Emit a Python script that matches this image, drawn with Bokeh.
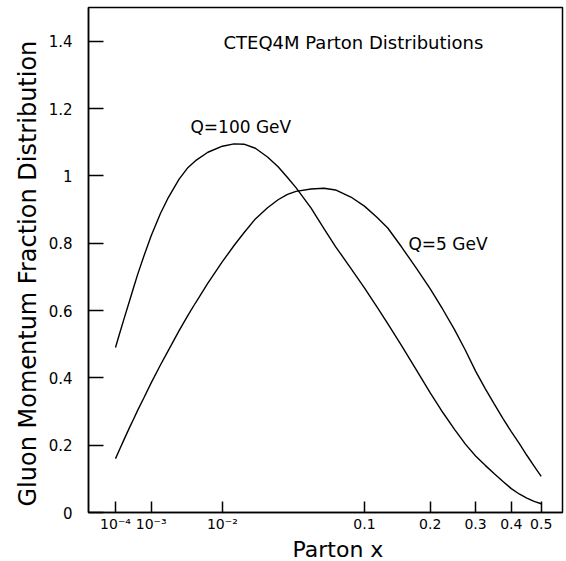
import numpy as np
from bokeh.plotting import figure
from bokeh.models import Range1d, FixedTicker, CustomJSTickFormatter, Label, Title
from bokeh.embed import file_html
from bokeh.resources import INLINE

# Parton momentum fraction x
x_vals = [1e-4, 1.5e-4, 2e-4, 3e-4, 4e-4, 5e-4, 7e-4, 1e-3, 1.5e-3, 2e-3, 3e-3, 4e-3,
          5e-3, 7e-3, 1e-2, 0.013, 0.016, 0.02, 0.025, 0.03, 0.035, 0.04, 0.05, 0.06,
          0.07, 0.085, 0.1, 0.115, 0.13, 0.15, 0.175, 0.2, 0.225, 0.25, 0.275, 0.3,
          0.325, 0.35, 0.375, 0.4, 0.425, 0.45, 0.475, 0.5]
# x*g(x) at Q = 100 GeV
q100 = [0.49, 0.537, 0.573, 0.628, 0.672, 0.708, 0.762, 0.822, 0.888, 0.932, 0.99, 1.025,
        1.045, 1.07, 1.088, 1.095, 1.094, 1.082, 1.056, 1.027, 0.995, 0.965, 0.905, 0.843,
        0.79, 0.725, 0.667, 0.612, 0.561, 0.497, 0.423, 0.355, 0.297, 0.247, 0.203, 0.168,
        0.14, 0.115, 0.092, 0.071, 0.055, 0.043, 0.033, 0.026]
# x*g(x) at Q = 5 GeV
q5 = [0.16, 0.191, 0.215, 0.252, 0.28, 0.304, 0.341, 0.385, 0.438, 0.478, 0.54, 0.586,
      0.623, 0.681, 0.745, 0.793, 0.831, 0.872, 0.905, 0.929, 0.945, 0.954, 0.961, 0.963,
      0.958, 0.937, 0.91, 0.878, 0.845, 0.79, 0.725, 0.664, 0.603, 0.543, 0.482, 0.42,
      0.368, 0.322, 0.279, 0.24, 0.205, 0.17, 0.138, 0.107]

x_tick_vals = [1e-4, 1e-3, 1e-2, 0.1, 0.2, 0.3, 0.4, 0.5]
x_tick_labels = ["10\u207b\u2074", "10\u207b\u00b3", "10\u207b\u00b2", "0.1", "0.2", "0.3", "0.4", "0.5"]
y_tick_vals = [0, 0.2, 0.4, 0.6, 0.8, 1.0, 1.2, 1.4]

POW = 0.3  # the x axis is drawn on an x^0.3 scale
tx = np.array(x_vals) ** POW
tticks = [v ** POW for v in x_tick_vals]

FONT = "DejaVu Sans"

p = figure(width=566, height=561, output_backend="svg", toolbar_location=None,
           x_range=Range1d(0.01558, 0.8498), y_range=Range1d(0, 1.5),
           min_border_left=88, min_border_right=4, min_border_top=7, min_border_bottom=49)
p.background_fill_color = "white"
p.border_fill_color = "white"
p.outline_line_color = "black"
p.outline_line_width = 1.5
p.grid.visible = False

p.line(tx, q100, line_color="black", line_width=1.4)
p.line(tx, q5, line_color="black", line_width=1.4)

xa = p.xaxis[0]
xa.ticker = FixedTicker(ticks=tticks, minor_ticks=[])
xa.formatter = CustomJSTickFormatter(args=dict(tvals=tticks, labs=x_tick_labels), code="""
let best = 0;
for (let i = 0; i < tvals.length; i++) {
  if (Math.abs(tvals[i] - tick) < Math.abs(tvals[best] - tick)) best = i;
}
return labs[best];
""")

ya = p.yaxis[0]
ya.ticker = FixedTicker(ticks=y_tick_vals, minor_ticks=[])
ya.formatter = CustomJSTickFormatter(code="return String(Math.round(tick*10)/10);")

for ax in (xa, ya):
    ax.axis_line_color = "black"
    ax.axis_line_width = 1.5
    ax.major_tick_line_color = "black"
    ax.major_tick_line_width = 1.5
    ax.major_tick_out = 0
    ax.minor_tick_out = 0
    ax.minor_tick_in = 0
    ax.major_label_text_font = FONT
    ax.major_label_text_color = "black"

xa.major_label_text_font_size = "14px"
ya.major_label_text_font_size = "15px"
xa.major_tick_in = 11
xa.major_label_standoff = 3
ya.major_tick_in = 15
ya.major_label_standoff = 16

# axis titles
p.add_layout(Title(text="Parton x", text_font=FONT, text_font_size="22px",
                   text_font_style="normal", text_color="black", text_line_height=0.9,
                   align="left", offset=204, standoff=0), "below")
p.add_layout(Title(text="Gluon Momentum Fraction Distribution", text_font=FONT,
                   text_font_size="24px", text_font_style="normal", text_color="black",
                   align="left", offset=6, standoff=8), "left")

p.add_layout(Label(x=0.2532, y=1.397, text="CTEQ4M Parton Distributions",
                   text_font=FONT, text_font_size="18px", text_align="left",
                   text_baseline="alphabetic", text_color="black"))
p.add_layout(Label(x=0.195, y=1.144, text="Q=100 GeV",
                   text_font=FONT, text_font_size="17px", text_align="left",
                   text_baseline="alphabetic", text_color="black"))
p.add_layout(Label(x=0.5786, y=0.799, text="Q=5 GeV",
                   text_font=FONT, text_font_size="17px", text_align="left",
                   text_baseline="alphabetic", text_color="black"))

open("out.html", "w").write(file_html(p, INLINE))
